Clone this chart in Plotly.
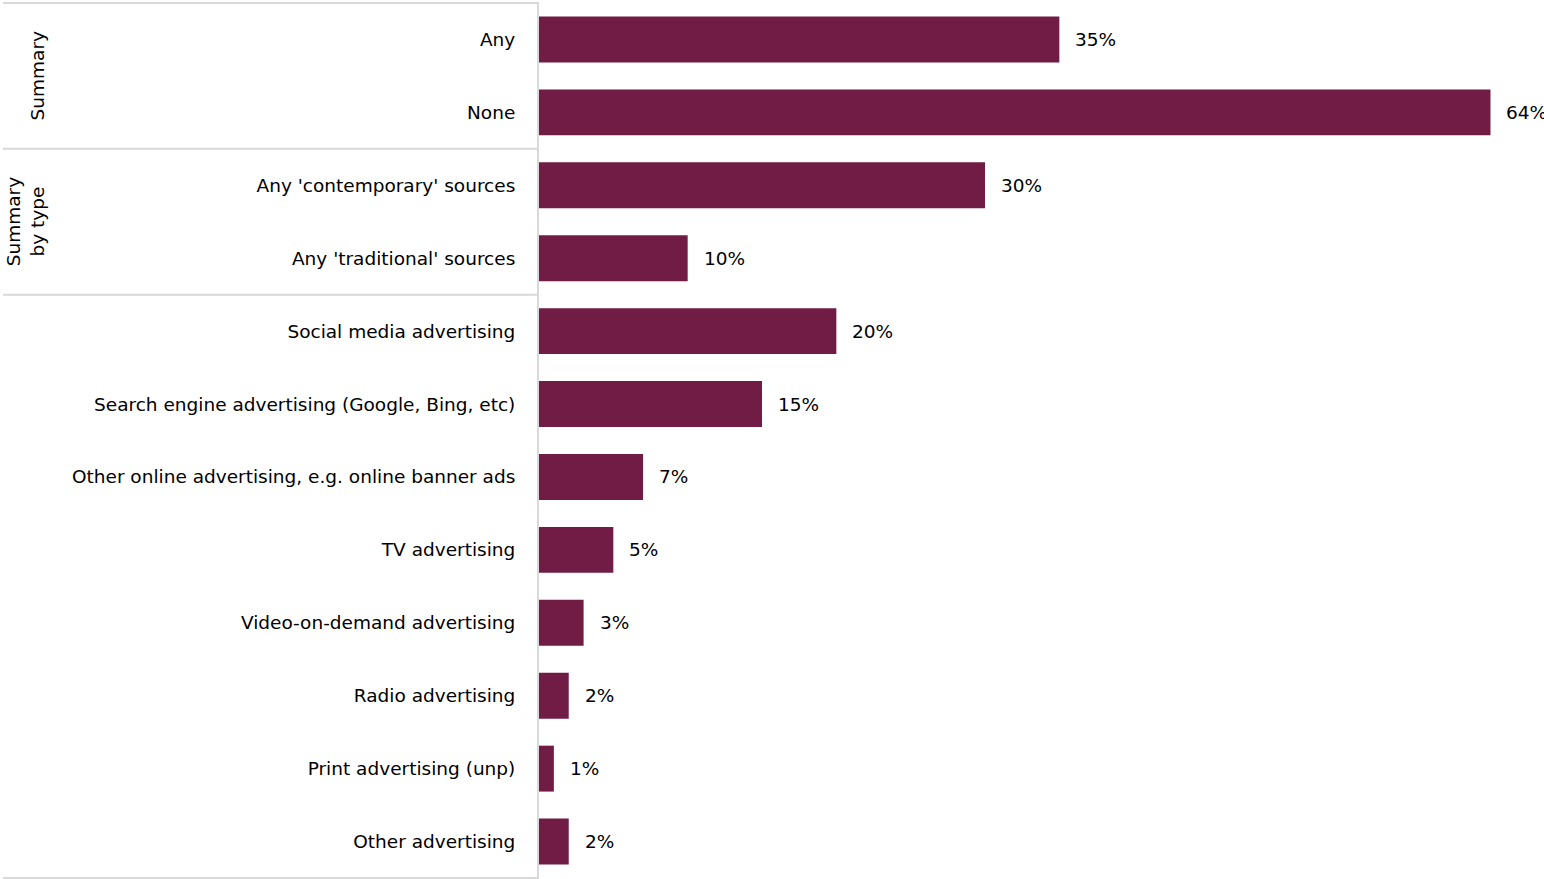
import plotly.graph_objects as go

# Advertising sources, top to bottom
categories = [
    "Any",
    "None",
    "Any 'contemporary' sources",
    "Any 'traditional' sources",
    "Social media advertising",
    "Search engine advertising (Google, Bing, etc)",
    "Other online advertising, e.g. online banner ads",
    "TV advertising",
    "Video-on-demand advertising",
    "Radio advertising",
    "Print advertising (unp)",
    "Other advertising",
]
values = [35, 64, 30, 10, 20, 15, 7, 5, 3, 2, 1, 2]

# Row groups: (label, first row index, last row index)
groups = [
    ("Summary", 0, 1),
    ("Summary<br>by type", 2, 3),
    ("", 4, 11),
]

BAR_COLOR = "#701C45"
LINE_COLOR = "#D9D9D9"
FONT = "Verdana, DejaVu Sans, sans-serif"
FONT_SIZE = 18.5
PLOT_W = 1005

fig = go.Figure(
    go.Bar(
        x=values,
        y=categories,
        orientation="h",
        marker=dict(color=BAR_COLOR, line=dict(width=0)),
        width=0.63,
        hoverinfo="skip",
    )
)

# Value labels just right of each bar
for cat, v in zip(categories, values):
    fig.add_annotation(
        x=v, y=cat, xref="x", yref="y",
        text=f"{v}%", showarrow=False,
        xanchor="left", yanchor="middle", xshift=14,
        font=dict(family=FONT, size=FONT_SIZE, color="#000000"),
    )

# Group separators and rotated group labels on the left
left_edge = -536 / PLOT_W
label_right = -489 / PLOT_W
for label, first, last in groups:
    fig.add_shape(
        type="line", xref="paper", yref="y",
        x0=left_edge, x1=0, y0=first - 0.5, y1=first - 0.5,
        line=dict(color=LINE_COLOR, width=2),
    )
    if label:
        fig.add_annotation(
            x=label_right, xref="paper", y=(first + last) / 2, yref="y",
            text=label, showarrow=False, textangle=-90,
            xanchor="right", yanchor="middle",
            font=dict(family=FONT, size=FONT_SIZE, color="#000000"),
        )
fig.add_shape(
    type="line", xref="paper", yref="y",
    x0=left_edge, x1=0, y0=len(categories) - 0.5, y1=len(categories) - 0.5,
    line=dict(color=LINE_COLOR, width=2),
)

fig.update_layout(
    width=1544,
    height=879,
    margin=dict(l=539, r=0, t=2, b=0),
    paper_bgcolor="white",
    plot_bgcolor="white",
    showlegend=False,
    font=dict(family=FONT, size=FONT_SIZE, color="#000000"),
    xaxis=dict(
        range=[0, 67.6],
        visible=False,
        showgrid=False,
        zeroline=False,
    ),
    yaxis=dict(
        categoryorder="array",
        categoryarray=categories,
        autorange="reversed",
        showgrid=False,
        zeroline=False,
        showline=True,
        linecolor=LINE_COLOR,
        linewidth=2,
        ticks="",
        ticklabelstandoff=18,
        tickfont=dict(family=FONT, size=FONT_SIZE, color="#000000"),
    ),
)

fig.write_html("out.html")
